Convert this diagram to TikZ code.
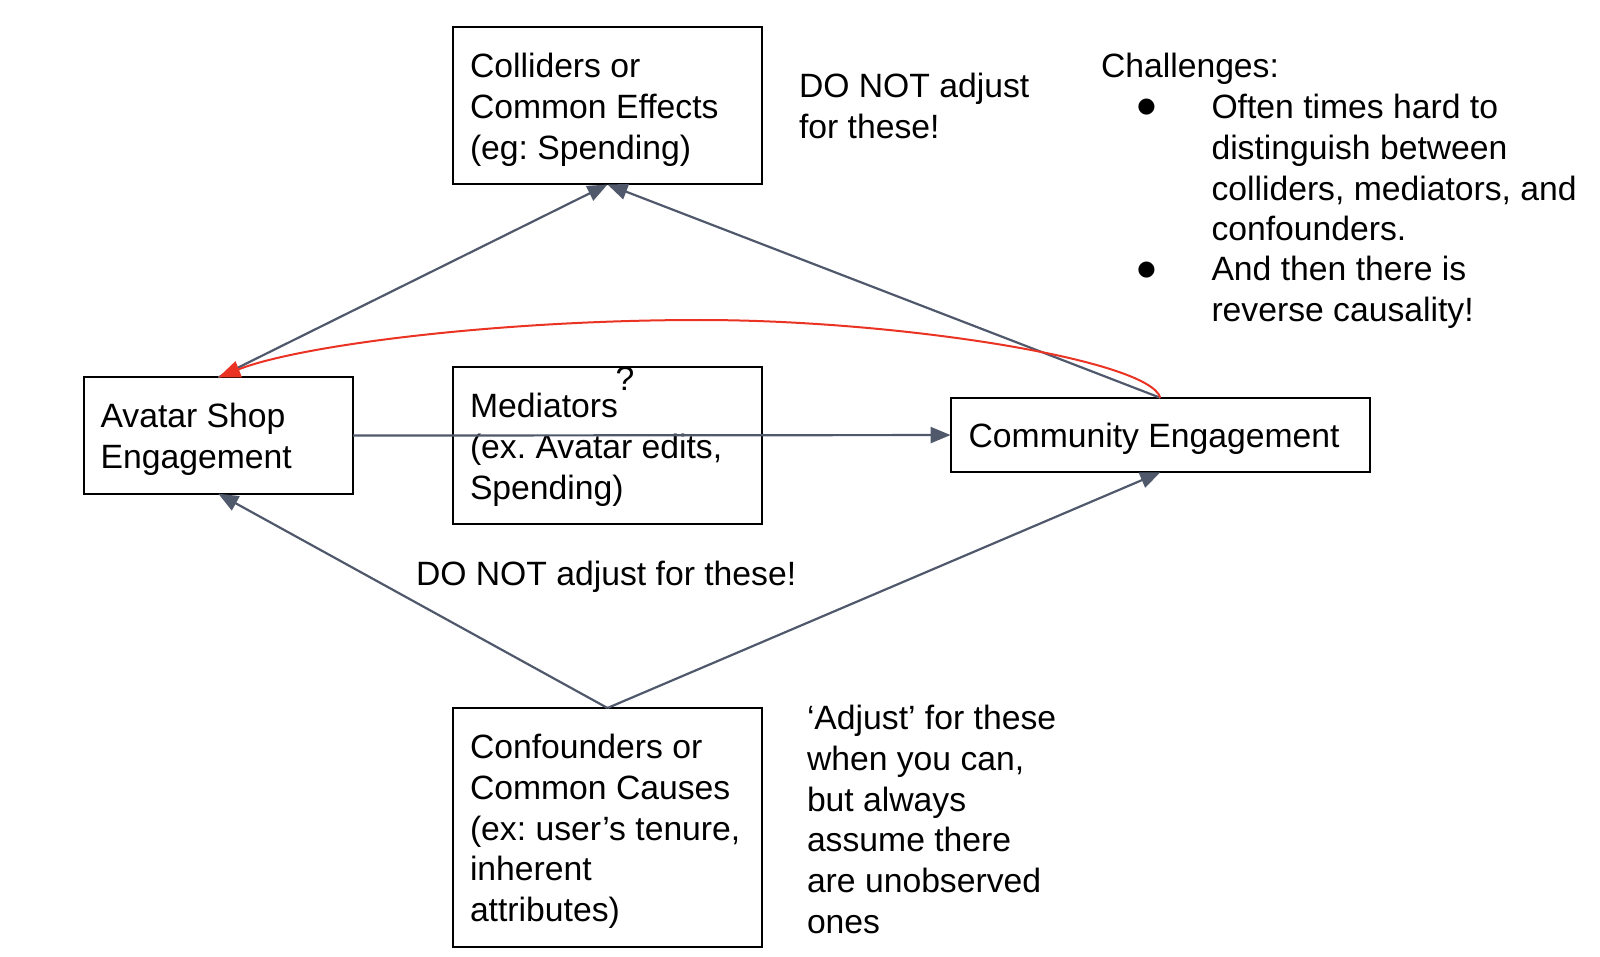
\documentclass[tikz,border=0pt]{standalone}
\usepackage{fontspec}
\setmainfont{Liberation Sans}
\newfontfamily\symfont{DejaVu Sans}
\usetikzlibrary{arrows.meta}
\definecolor{edgegray}{RGB}{80,89,108}
\definecolor{revred}{RGB}{234,51,35}
\frenchspacing
\begin{document}
\begin{tikzpicture}[x=1pt,y=-1pt,
  every node/.style={font=\fontsize{33.7}{40.8}\selectfont, inner sep=0pt, outer sep=0pt},
  box/.style={draw=black, line width=2pt, anchor=north west},
  boxtext/.style={align=left, anchor=west},
  link/.style={draw=edgegray, line width=2.2pt, -{Triangle[length=20pt,width=16pt]}},
  rev/.style={draw=revred, line width=2pt, -{Triangle[length=22pt,width=17pt]}},
  note/.style={align=left, anchor=west},
  bul/.style={font=\symfont\fontsize{21}{21}\selectfont, anchor=center}]
\useasboundingbox (0,0) rectangle (1600,957);

% boxes
\node[box, minimum width=309pt, minimum height=157pt] (coll) at (453,27.5) {};
\node[box, minimum width=309pt, minimum height=157pt] (med) at (453,367) {};
\node[box, minimum width=309pt, minimum height=238.6pt] (conf) at (453,708) {};
\node[box, minimum width=269.4pt, minimum height=116.3pt] (av) at (83.6,377.4) {};
\node[box, minimum width=419.4pt, minimum height=74.5pt] (comm) at (950.6,397.8) {};

% box texts
\node[boxtext] (colltxt) at ([xshift=17pt,yshift=-4pt]coll.west) {Colliders or\\Common Effects\\(eg: Spending)};
\node[boxtext] (medtxt) at ([xshift=17pt,yshift=-4pt]med.west) {Mediators\\(ex. Avatar edits,\\Spending)};
\node[boxtext] (conftxt) at ([xshift=17pt,yshift=-4pt]conf.west) {Confounders or\\Common Causes\\(ex: user’s tenure,\\inherent\\attributes)};
\node[boxtext] (avtxt) at ([xshift=17pt,yshift=-4pt]av.west) {Avatar Shop\\Engagement};
\node[boxtext] (commtxt) at ([xshift=18pt,yshift=-4pt]comm.west) {Community Engagement};

% notes
\node[note] (n1) at (799,106) {DO NOT adjust\\for these!};
\node[note] (n2) at (416,577) {DO NOT adjust for these!};
\node[note] (n3) at (807,819.5) {‘Adjust’ for these\\when you can,\\but always\\assume there\\are unobserved\\ones};
\node[anchor=center] (q) at (625,379) {?};
\node[note] (ch) at (1101,69) {Challenges:};
\node[bul] (b1) at (1146.5,107) {●};
\node[bul] (b2) at (1146.5,270) {●};
\node[align=left, anchor=north west] (i1) at (1211.5,94) {Often times hard to\\distinguish between\\colliders, mediators, and\\confounders.};
\node[align=left, anchor=north west] (i2) at (1211.5,256) {And then there is\\reverse causality!};

% connectors
\draw[link] (av.north) -- (coll.south);
\draw[link] (comm.north) -- (coll.south);
\draw[link] (av.east) -- (comm.west);
\draw[link] (conf.north) -- (av.south);
\draw[link] (conf.north) -- (comm.south);
\draw[rev] (comm.north) .. controls (1150,360) and (900,320) .. (700,320) .. controls (500,320) and (300,345) .. (av.north);
\end{tikzpicture}
\end{document}
